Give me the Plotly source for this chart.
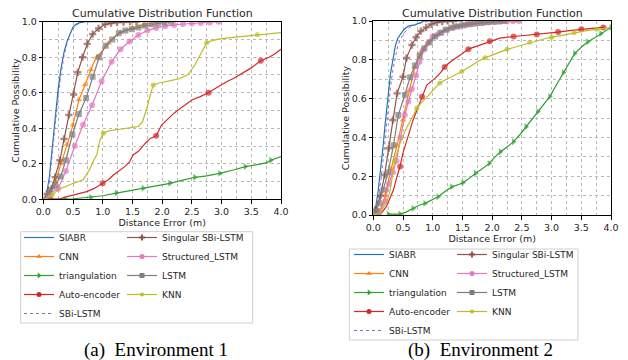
import plotly.graph_objects as go

# ---------------- data: Environment 1 ----------------
siabr1_x = [0, 0.05, 0.1, 0.15, 0.2, 0.25, 0.3, 0.35, 0.4, 0.45, 0.5, 0.55, 0.6, 0.7, 0.8, 1.0, 1.2]
siabr1_y = [0, 0.02, 0.12, 0.3, 0.47, 0.62, 0.74, 0.83, 0.89, 0.935, 0.97, 0.985, 0.993, 1.0, 1.0, 1.0, 1.0]
sbi1_x = [0, 0.05, 0.1, 0.15, 0.2, 0.25, 0.3, 0.35, 0.4, 0.45, 0.5, 0.55, 0.6, 0.7, 0.8, 1.0, 1.2]
sbi1_y = [0, 0.01, 0.09, 0.26, 0.43, 0.58, 0.71, 0.81, 0.88, 0.93, 0.96, 0.98, 0.99, 0.998, 1.0, 1.0, 1.0]
cnn1_x = [0, 0.05, 0.1, 0.15, 0.2, 0.25, 0.3, 0.35, 0.4, 0.45, 0.5, 0.55, 0.6, 0.65, 0.7, 0.75, 0.8,
          0.85, 0.9, 1.0, 1.1, 1.2, 1.3, 1.4, 1.5, 1.6, 1.7, 1.8, 1.9, 2.0]
cnn1_y = [0, 0.01, 0.04, 0.07, 0.1, 0.15, 0.2, 0.25, 0.31, 0.36, 0.42, 0.49, 0.56, 0.6, 0.645, 0.69, 0.73,
          0.77, 0.8, 0.84, 0.88, 0.915, 0.94, 0.955, 0.965, 0.975, 0.985, 0.99, 0.995, 1.0]
tri1_x = [0, 0.37, 0.5, 0.6, 0.8, 1.0, 1.23, 1.45, 1.68, 1.9, 2.13, 2.35, 2.55, 2.75, 2.97, 3.2, 3.4,
          3.6, 3.75, 3.83, 3.92, 4.0]
tri1_y = [0, 0, 0.002, 0.006, 0.011, 0.02, 0.035, 0.048, 0.062, 0.075, 0.09, 0.108, 0.124, 0.132, 0.146,
          0.165, 0.184, 0.195, 0.205, 0.22, 0.232, 0.24]
ae1_x = [0, 0.12, 0.28, 0.4, 0.5, 0.6, 0.73, 0.85, 0.9, 1.0, 1.1, 1.18, 1.28, 1.37, 1.45, 1.51, 1.6, 1.66,
         1.73, 1.8, 1.9, 1.99, 2.06, 2.13, 2.2, 2.27, 2.38, 2.5, 2.64, 2.78, 2.9, 3.0, 3.1, 3.2, 3.3, 3.4,
         3.5, 3.66, 3.8, 3.9, 4.0]
ae1_y = [0, 0, 0.002, 0.015, 0.024, 0.03, 0.043, 0.06, 0.07, 0.09, 0.112, 0.137, 0.16, 0.184, 0.21, 0.25,
         0.27, 0.296, 0.32, 0.343, 0.358, 0.418, 0.44, 0.465, 0.485, 0.503, 0.53, 0.559, 0.578, 0.6, 0.625,
         0.645, 0.665, 0.68, 0.7, 0.72, 0.74, 0.78, 0.8, 0.82, 0.845]
sing1_x = [0, 0.06, 0.14, 0.2, 0.28, 0.35, 0.43, 0.51, 0.58, 0.66, 0.74, 0.83, 0.93, 1.04, 1.14, 1.24,
           1.35, 1.46, 1.57]
sing1_y = [0, 0.03, 0.062, 0.125, 0.22, 0.34, 0.475, 0.59, 0.715, 0.8, 0.875, 0.93, 0.962, 0.985, 0.992,
           0.996, 0.998, 1.0, 1.0]
struct1_x = [0, 0.1, 0.25, 0.38, 0.53, 0.67, 0.82, 0.98, 1.15, 1.3, 1.45, 1.6, 1.75, 1.9, 2.05, 2.2, 2.35,
             2.5, 2.65, 2.8, 2.95]
struct1_y = [0, 0.03, 0.06, 0.16, 0.3, 0.42, 0.53, 0.665, 0.775, 0.845, 0.888, 0.925, 0.95, 0.965, 0.975,
             0.982, 0.987, 0.99, 0.993, 0.996, 1.0]
lstm1_x = [0, 0.1, 0.2, 0.29, 0.38, 0.49, 0.6, 0.72, 0.83, 0.94, 1.05, 1.16, 1.27, 1.38, 1.49, 1.6, 1.71,
           1.82, 1.93, 2.04, 2.15]
lstm1_y = [0, 0.04, 0.08, 0.128, 0.22, 0.365, 0.48, 0.57, 0.69, 0.8, 0.865, 0.9, 0.935, 0.95, 0.958, 0.968,
           0.978, 0.985, 0.99, 0.995, 1.0]
knn1_x = [0, 0.06, 0.15, 0.28, 0.4, 0.5, 0.6, 0.67, 0.73, 0.79, 0.85, 0.9, 0.95, 1.01, 1.1, 1.18, 1.3, 1.4,
          1.5, 1.6, 1.67, 1.74, 1.8, 1.85, 1.95, 2.08, 2.2, 2.3, 2.44, 2.55, 2.64, 2.72, 2.75, 2.85, 3.0,
          3.2, 3.4, 3.6, 3.8, 4.0]
knn1_y = [0, 0.006, 0.025, 0.06, 0.075, 0.09, 0.1, 0.11, 0.14, 0.175, 0.22, 0.25, 0.33, 0.372, 0.385, 0.39,
          0.395, 0.4, 0.405, 0.41, 0.437, 0.51, 0.587, 0.644, 0.655, 0.662, 0.672, 0.68, 0.704, 0.756, 0.81,
          0.86, 0.882, 0.895, 0.905, 0.912, 0.918, 0.926, 0.932, 0.938]

# ---------------- data: Environment 2 ----------------
siabr2_x = [0, 0.04, 0.08, 0.12, 0.16, 0.2, 0.25, 0.29, 0.33, 0.37, 0.41, 0.45, 0.5, 0.55, 0.6, 0.7, 0.8,
            0.86, 1.0, 1.5]
siabr2_y = [0, 0.04, 0.12, 0.22, 0.34, 0.47, 0.63, 0.73, 0.8, 0.87, 0.91, 0.93, 0.95, 0.965, 0.975, 0.98,
            0.99, 1.0, 1.0, 1.0]
sbi2_x = [0, 0.04, 0.08, 0.12, 0.16, 0.2, 0.25, 0.29, 0.33, 0.37, 0.41, 0.45, 0.5, 0.55, 0.6, 0.7, 0.8,
          0.86, 1.0, 1.5]
sbi2_y = [0, 0.02, 0.08, 0.16, 0.27, 0.4, 0.55, 0.66, 0.75, 0.82, 0.87, 0.9, 0.93, 0.95, 0.965, 0.98, 0.99,
          0.995, 1.0, 1.0]
cnn2_x = [0, 0.1, 0.15, 0.2, 0.25, 0.3, 0.35, 0.4, 0.45, 0.5, 0.55, 0.6, 0.65, 0.7, 0.75, 0.8, 0.9, 1.0,
          1.1, 1.2, 1.3, 1.4, 1.5, 1.6, 1.7, 1.8, 1.9, 2.0, 2.1, 2.2, 2.3, 2.4, 2.5]
cnn2_y = [0, 0.02, 0.05, 0.1, 0.17, 0.24, 0.3, 0.36, 0.43, 0.49, 0.56, 0.64, 0.7, 0.76, 0.81, 0.84, 0.89,
          0.915, 0.935, 0.952, 0.967, 0.977, 0.985, 0.99, 0.993, 0.995, 0.997, 0.998, 0.998, 0.999, 0.999,
          1.0, 1.0]
tri2_x = [0.25, 0.35, 0.45, 0.55, 0.67, 0.77, 0.87, 0.98, 1.09, 1.2, 1.32, 1.42, 1.51, 1.62, 1.72, 1.84,
          1.95, 2.05, 2.14, 2.25, 2.36, 2.47, 2.57, 2.67, 2.77, 2.87, 2.97, 3.08, 3.2, 3.3, 3.39, 3.5, 3.61,
          3.72, 3.83, 3.92, 4.0]
tri2_y = [0.005, 0.005, 0.005, 0.015, 0.034, 0.05, 0.06, 0.075, 0.094, 0.12, 0.146, 0.155, 0.167, 0.19,
          0.215, 0.24, 0.266, 0.3, 0.326, 0.35, 0.378, 0.415, 0.455, 0.495, 0.533, 0.57, 0.61, 0.67, 0.734,
          0.785, 0.833, 0.865, 0.893, 0.912, 0.935, 0.952, 0.967]
ae2_x = [0, 0.08, 0.15, 0.22, 0.3, 0.34, 0.4, 0.45, 0.5, 0.56, 0.62, 0.67, 0.72, 0.76, 0.82, 0.9, 0.98,
         1.07, 1.15, 1.2, 1.3, 1.4, 1.5, 1.6, 1.7, 1.8, 1.96, 2.13, 2.36, 2.55, 2.75, 2.95, 3.11, 3.3, 3.5,
         3.7, 3.87, 3.9]
ae2_y = [0, 0, 0.015, 0.043, 0.1, 0.13, 0.2, 0.25, 0.32, 0.387, 0.44, 0.49, 0.53, 0.56, 0.61, 0.67, 0.69,
         0.713, 0.74, 0.763, 0.79, 0.81, 0.833, 0.855, 0.866, 0.876, 0.895, 0.912, 0.92, 0.925, 0.93, 0.936,
         0.943, 0.95, 0.957, 0.962, 0.967, 0.968]
sing2_x = [0, 0.03, 0.12, 0.19, 0.26, 0.33, 0.4, 0.5, 0.56, 0.65, 0.72, 0.8, 0.89, 0.98, 1.07, 1.16, 1.25,
           1.34]
sing2_y = [0, 0.026, 0.1, 0.206, 0.344, 0.49, 0.627, 0.713, 0.81, 0.876, 0.916, 0.948, 0.967, 0.983, 0.993,
           0.997, 1.0, 1.0]
struct2_x = [0, 0.1, 0.2, 0.26, 0.33, 0.39, 0.46, 0.53, 0.59, 0.65, 0.72, 0.78, 0.84, 0.92, 1.0, 1.08,
             1.15, 1.25, 1.35, 1.45, 1.55, 1.65, 1.75, 1.85, 1.95, 2.05, 2.15, 2.25, 2.35, 2.45]
struct2_y = [0, 0.01, 0.07, 0.16, 0.22, 0.28, 0.4, 0.515, 0.585, 0.65, 0.72, 0.79, 0.85, 0.885, 0.92, 0.93,
             0.94, 0.955, 0.965, 0.972, 0.978, 0.983, 0.987, 0.99, 0.993, 0.995, 0.997, 0.998, 0.999, 1.0]
lstm2_x = [0, 0.05, 0.1, 0.17, 0.25, 0.34, 0.42, 0.53, 0.62, 0.7, 0.78, 0.86, 0.95, 1.04, 1.13, 1.22, 1.31,
           1.4, 1.5, 1.6, 1.7, 1.8, 1.9, 2.0, 2.1, 2.2]
lstm2_y = [0, 0.02, 0.06, 0.13, 0.22, 0.36, 0.515, 0.62, 0.71, 0.77, 0.82, 0.86, 0.89, 0.92, 0.94, 0.955,
           0.965, 0.972, 0.978, 0.983, 0.987, 0.99, 0.993, 0.996, 0.998, 1.0]
knn2_x = [0, 0.11, 0.22, 0.28, 0.31, 0.36, 0.45, 0.56, 0.65, 0.73, 0.8, 0.87, 0.94, 1.01, 1.12, 1.2, 1.3,
          1.4, 1.49, 1.6, 1.68, 1.78, 1.88, 1.98, 2.08, 2.16, 2.25, 2.35, 2.44, 2.54, 2.63, 2.72, 2.8, 2.9,
          3.0, 3.1, 3.2, 3.3, 3.38, 3.48, 3.59, 3.68, 3.76, 3.86, 4.0]
knn2_y = [0, 0.01, 0.06, 0.12, 0.18, 0.28, 0.37, 0.45, 0.5, 0.55, 0.575, 0.595, 0.62, 0.645, 0.68, 0.695,
          0.71, 0.725, 0.74, 0.76, 0.777, 0.795, 0.81, 0.822, 0.833, 0.843, 0.854, 0.862, 0.87, 0.88, 0.89,
          0.898, 0.905, 0.91, 0.916, 0.922, 0.928, 0.934, 0.94, 0.945, 0.95, 0.954, 0.957, 0.961, 0.967]

# which points carry markers (matplotlib markevery style)
ae1_marks = [0.12, 1.0, 1.9, 2.78, 3.66]
tri1_marks = [0.37, 0.8, 1.23, 1.68, 2.13, 2.55, 2.97, 3.4, 3.83]
knn1_marks = [0.15, 1.01, 1.85, 2.75, 3.6]
ae2_marks = [0.08, 0.45, 0.82, 1.2, 1.6, 1.96, 2.36, 2.75, 3.11, 3.5, 3.87]
knn2_marks = [0, 0.36, 0.73, 1.12, 1.49, 1.88, 2.25, 2.63, 3.0, 3.38, 3.76]

names = ["SIABR", "CNN", "triangulation", "Auto-encoder", "SBi-LSTM",
         "Singular SBi-LSTM", "Structured_LSTM", "LSTM", "KNN"]

env1 = {
    "SIABR": (siabr1_x, siabr1_y, None), "CNN": (cnn1_x, cnn1_y, (2, 0)),
    "triangulation": (tri1_x, tri1_y, tri1_marks), "Auto-encoder": (ae1_x, ae1_y, ae1_marks),
    "SBi-LSTM": (sbi1_x, sbi1_y, None), "Singular SBi-LSTM": (sing1_x, sing1_y, (1, 1)),
    "Structured_LSTM": (struct1_x, struct1_y, (1, 1)), "LSTM": (lstm1_x, lstm1_y, (1, 1)),
    "KNN": (knn1_x, knn1_y, knn1_marks),
}
env2 = {
    "SIABR": (siabr2_x, siabr2_y, None), "CNN": (cnn2_x, cnn2_y, (2, 1)),
    "triangulation": (tri2_x, tri2_y, (2, 0)), "Auto-encoder": (ae2_x, ae2_y, ae2_marks),
    "SBi-LSTM": (sbi2_x, sbi2_y, None), "Singular SBi-LSTM": (sing2_x, sing2_y, (1, 1)),
    "Structured_LSTM": (struct2_x, struct2_y, (1, 1)), "LSTM": (lstm2_x, lstm2_y, (1, 1)),
    "KNN": (knn2_x, knn2_y, knn2_marks),
}

# ---------------- styles ----------------
style = {
    "SIABR": dict(color="#1f77b4", symbol=None, dash="solid", size=0),
    "CNN": dict(color="#ff7f0e", symbol="triangle-up", dash="solid", size=6),
    "triangulation": dict(color="#2ca02c", symbol="triangle-right", dash="solid", size=6),
    "Auto-encoder": dict(color="#d62728", symbol="circle", dash="solid", size=6),
    "SBi-LSTM": dict(color="#9467bd", symbol=None, dash="dot", size=0),
    "Singular SBi-LSTM": dict(color="#8c564b", symbol="cross", dash="solid", size=6),
    "Structured_LSTM": dict(color="#e377c2", symbol="circle", dash="solid", size=6),
    "LSTM": dict(color="#7f7f7f", symbol="square", dash="solid", size=6),
    "KNN": dict(color="#bcbd22", symbol="circle", dash="solid", size=5),
}
col1 = {"SIABR", "CNN", "triangulation", "Auto-encoder", "SBi-LSTM"}

def marker_sizes(xs, spec, size):
    out = []
    for i, x in enumerate(xs):
        if spec is None:
            on = False
        elif isinstance(spec, tuple):
            every, off = spec
            on = i >= off and (i - off) % every == 0
        else:
            on = any(abs(x - a) < 1e-9 for a in spec)
        out.append(size if on else 0)
    return out

fig = go.Figure()
FONT = "DejaVu Sans"
TXT = "#262626"

for env, xa, ya, legs in [(env1, "x", "y", ("legend", "legend2")),
                          (env2, "x2", "y2", ("legend3", "legend4"))]:
    for n in names:
        xs, ys, spec = env[n]
        st = style[n]
        lw = 1.0 if st["dash"] == "dot" else 1.2
        mk = dict(color=st["color"], symbol=st["symbol"] or "circle",
                  size=marker_sizes(xs, spec, st["size"]), line=dict(width=0))
        fig.add_trace(go.Scatter(
            x=xs, y=ys, mode="lines+markers" if st["symbol"] else "lines",
            line=dict(color=st["color"], width=lw, dash=st["dash"]),
            marker=mk, xaxis=xa, yaxis=ya, showlegend=False, hoverinfo="skip"))
    for n in names:
        st = style[n]
        lw = 1.0 if st["dash"] == "dot" else 1.2
        fig.add_trace(go.Scatter(
            x=[None], y=[None], name=n,
            mode="lines+markers" if st["symbol"] else "lines",
            line=dict(color=st["color"], width=lw, dash=st["dash"]),
            marker=dict(color=st["color"], symbol=st["symbol"] or "circle",
                        size=max(st["size"] - 1, 1), line=dict(width=0)),
            xaxis=xa, yaxis=ya, showlegend=True,
            legend=legs[0] if n in col1 else legs[1]))

W, H = 628, 360
def px(v): return v / W
def py(v): return 1 - v / H

grid = dict(showgrid=True, gridcolor="#b8b8b8", griddash="dot", gridwidth=0.8)
axis_common = dict(showline=True, mirror=True, linecolor="black", linewidth=1,
                   ticks="outside", ticklen=3.5, tickcolor="black", tickwidth=0.8,
                   tickfont=dict(family=FONT, size=9.5, color=TXT),
                   zeroline=False, automargin=False, **grid)

def xaxis(dom, anchor):
    return dict(domain=dom, anchor=anchor, range=[0, 4], dtick=0.5, tick0=0,
                tickformat=".1f",
                minor=dict(dtick=0.25, showgrid=True, gridcolor="#b8b8b8",
                           griddash="dot", gridwidth=0.8),
                title=dict(text="Distance Error (m)", standoff=1,
                           font=dict(family=FONT, size=9.5, color=TXT)),
                **axis_common)

def yaxis(dom, anchor):
    return dict(domain=dom, anchor=anchor, range=[0, 1], dtick=0.2, tick0=0,
                tickformat=".1f",
                minor=dict(dtick=0.1, showgrid=True, gridcolor="#b8b8b8",
                           griddash="dot", gridwidth=0.8),
                title=dict(text="Cumulative Possibility", standoff=0,
                           font=dict(family=FONT, size=9.5, color=TXT)),
                **axis_common)

legfont = dict(family=FONT, size=9, color=TXT)
def leg(xp, yp):
    return dict(x=px(xp), y=py(yp), xanchor="left", yanchor="top",
                bgcolor="rgba(0,0,0,0)", borderwidth=0, font=legfont,
                itemwidth=30, tracegroupgap=0)

fig.update_layout(
    width=W, height=H, margin=dict(l=0, r=0, t=0, b=0, autoexpand=False),
    paper_bgcolor="white", plot_bgcolor="white",
    xaxis=xaxis([px(43.3), px(281)], "y"),
    yaxis=yaxis([py(199.3), py(21.7)], "x"),
    xaxis2=xaxis([px(373.3), px(611)], "y2"),
    yaxis2=yaxis([py(215), py(21)], "x2"),
    legend=leg(19, 223),
    legend2=leg(122, 223),
    legend3=leg(349, 240),
    legend4=leg(452, 240),
    shapes=[
        dict(type="rect", xref="paper", yref="paper", x0=px(20.7), x1=px(252.7),
             y0=py(231.7), y1=py(323), line=dict(color="#d0d0d0", width=1), layer="below"),
        dict(type="rect", xref="paper", yref="paper", x0=px(349.3), x1=px(578),
             y0=py(249), y1=py(340), line=dict(color="#d0d0d0", width=1), layer="below"),
    ],
    annotations=[
        dict(text="Cumulative Distribution Function", x=px(162), y=py(13.5), xref="paper",
             yref="paper", showarrow=False, xanchor="center", yanchor="middle",
             font=dict(family=FONT, size=11, color=TXT)),
        dict(text="Cumulative Distribution Function", x=px(492), y=py(13.5), xref="paper",
             yref="paper", showarrow=False, xanchor="center", yanchor="middle",
             font=dict(family=FONT, size=11, color=TXT)),
        dict(text="(a)  Environment 1", x=px(155.5), y=py(350), xref="paper", yref="paper",
             showarrow=False, xanchor="center", yanchor="middle",
             font=dict(family="Liberation Serif", size=19, color="black")),
        dict(text="(b)  Environment 2", x=px(480), y=py(350), xref="paper", yref="paper",
             showarrow=False, xanchor="center", yanchor="middle",
             font=dict(family="Liberation Serif", size=19, color="black")),
    ],
)

fig.write_html("out.html", config={"displayModeBar": False},
               post_script="document.body.style.margin='0';document.body.style.padding='0';")
